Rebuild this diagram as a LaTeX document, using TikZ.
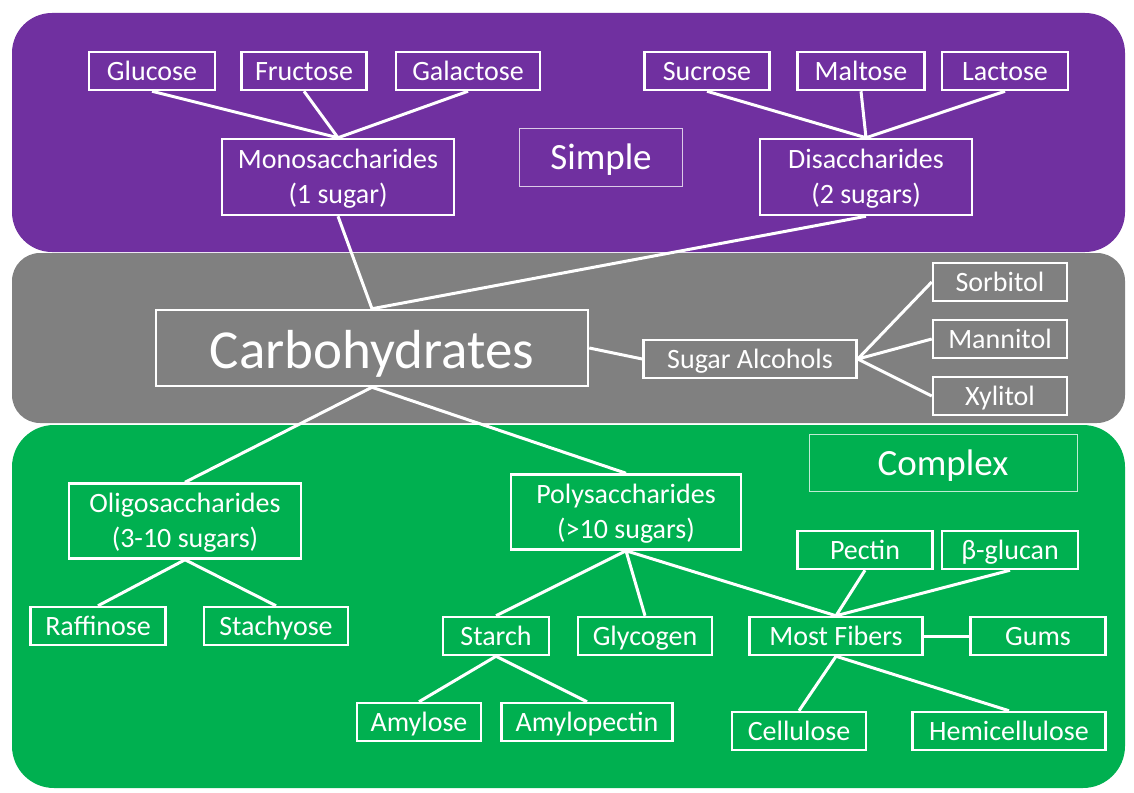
\documentclass[tikz,border=0pt]{standalone}
\usepackage{fontspec}
\setmainfont{Carlito}
\definecolor{simplepurple}{HTML}{7030A0}
\definecolor{alcoholgray}{HTML}{808080}
\definecolor{complexgreen}{HTML}{00B050}
\begin{document}
\begin{tikzpicture}[
    x=1pt, y=-1pt,
    every node/.style={draw=white, line width=2.5pt, text=white, inner sep=0pt, minimum height=38pt, align=center, text height=22pt, text depth=3pt, font=\fontsize{28}{35}\selectfont},
    twoline/.style={minimum height=76pt, text height=58pt, text depth=6pt},
    group/.style={draw=white, draw opacity=0.75, line width=1pt, text height=28pt, text depth=3pt, font=\fontsize{37}{40}\selectfont},
    link/.style={draw=white, line width=3pt}
    ]
    \useasboundingbox (0,0) rectangle (1134,792);
    % bands
    \fill[simplepurple, rounded corners=40pt] (12,13) rectangle (1125,252);
    \fill[alcoholgray, rounded corners=28pt] (12,253) rectangle (1125,423);
    \fill[complexgreen, rounded corners=42pt] (12,425) rectangle (1125,788);
    % simple
    \node[minimum width=126pt] (glu) at (152,71) {Glucose};
    \node[minimum width=125pt] (fru) at (304,71) {Fructose};
    \node[minimum width=144pt] (gal) at (468,71) {Galactose};
    \node[minimum width=125pt] (suc) at (707,71) {Sucrose};
    \node[minimum width=127pt] (mal) at (861,71) {Maltose};
    \node[minimum width=126pt] (lac) at (1005,71) {Lactose};
    \node[twoline, minimum width=232pt] (mono) at (338,177) {Monosaccharides\\(1 sugar)};
    \node[twoline, minimum width=212pt] (di) at (866,177) {Disaccharides\\(2 sugars)};
    \node[group, minimum width=163pt, minimum height=58pt] (simple) at (601,157) {Simple};
    % root
    \node[minimum width=432pt, minimum height=76pt, text height=44pt, text depth=4pt, font=\fontsize{55}{60}\selectfont] (carb) at (372,348) {Carbohydrates};
    \node[minimum width=213pt] (alc) at (750,359) {Sugar Alcohols};
    \node[minimum width=134pt] (sor) at (1000,282) {Sorbitol};
    \node[minimum width=134pt] (man) at (1000,339) {Mannitol};
    \node[minimum width=134pt] (xyl) at (1000,396) {Xylitol};
    % complex
    \node[group, minimum width=268pt, minimum height=57pt] (complex) at (943,463) {Complex};
    \node[twoline, minimum width=232pt, minimum height=75pt] (oligo) at (185,521) {Oligosaccharides\\(3-10 sugars)};
    \node[twoline, minimum width=230pt, minimum height=75pt] (poly) at (626,512) {Polysaccharides\\(>10 sugars)};
    \node[minimum width=135pt] (raf) at (98,626) {Raffinose};
    \node[minimum width=144pt] (sta) at (276,626) {Stachyose};
    \node[minimum width=135pt] (pec) at (865,550) {Pectin};
    \node[minimum width=136pt] (bglu) at (1010,550) {β-glucan};
    \node[minimum width=106pt] (starch) at (496,636) {Starch};
    \node[minimum width=134pt] (glyc) at (645,636) {Glycogen};
    \node[minimum width=173pt] (fib) at (836,636) {Most Fibers};
    \node[minimum width=135pt] (gum) at (1038,636) {Gums};
    \node[minimum width=124pt] (amy) at (419,722) {Amylose};
    \node[minimum width=171pt] (amyp) at (587,722) {Amylopectin};
    \node[minimum width=134pt] (cel) at (799,731) {Cellulose};
    \node[minimum width=193pt] (hem) at (1009,731) {Hemicellulose};
    % links
    \draw[link] (glu.south) -- (mono.north) (fru.south) -- (mono.north) (gal.south) -- (mono.north);
    \draw[link] (suc.south) -- (di.north) (mal.south) -- (di.north) (lac.south) -- (di.north);
    \draw[link] (mono.south) -- (carb.north) (di.south) -- (carb.north);
    \draw[link] (carb.east) -- (alc.west);
    \draw[link] (alc.east) -- (sor.west) (alc.east) -- (man.west) (alc.east) -- (xyl.west);
    \draw[link] (carb.south) -- (oligo.north) (carb.south) -- (poly.north);
    \draw[link] (oligo.south) -- (raf.north) (oligo.south) -- (sta.north);
    \draw[link] (poly.south) -- (starch.north) (poly.south) -- (glyc.north) (poly.south) -- (fib.north);
    \draw[link] (starch.south) -- (amy.north) (starch.south) -- (amyp.north);
    \draw[link] (pec.south) -- (fib.north) (bglu.south) -- (fib.north);
    \draw[link] (fib.east) -- (gum.west);
    \draw[link] (fib.south) -- (cel.north) (fib.south) -- (hem.north);
\end{tikzpicture}
\end{document}
